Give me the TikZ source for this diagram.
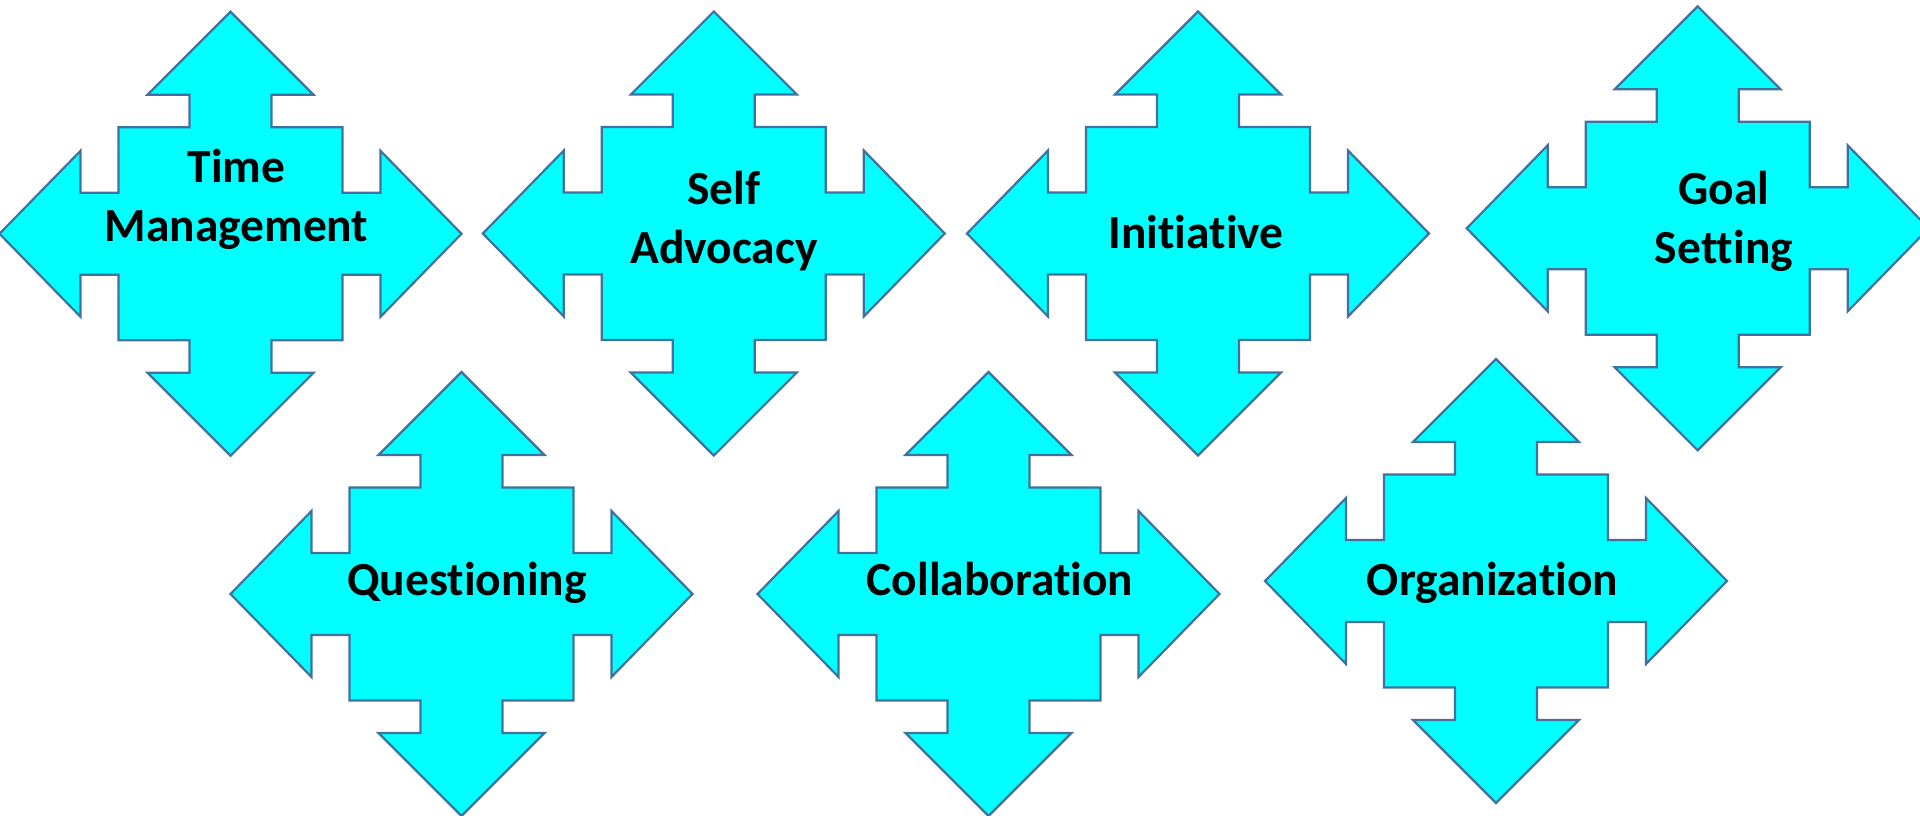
\documentclass[tikz,border=0pt]{standalone}
\usepackage{fontspec}
\setmainfont{Carlito}[Ligatures=NoCommon]
\usepackage{tikz}
\usetikzlibrary{positioning}

\definecolor{aqua}{HTML}{00FFFF}
\definecolor{edgeblue}{HTML}{41719C}

\tikzset{
  arrowshape/.style={fill=aqua, draw=edgeblue, line width=2.2pt, line join=miter},
  skill/.style={font=\fontsize{47.5}{59}\selectfont\bfseries, align=center, inner sep=0pt, anchor=base},
  quadarrow/.pic={
    \draw [arrowshape] (0,-222) -- (83,-139) -- (41,-139) -- (41,-106.5) -- (112,-106.5)
      -- (112,-41) -- (150,-41) -- (150,-83) -- (231,0) -- (150,83) -- (150,41)
      -- (112,41) -- (112,106.5) -- (41,106.5) -- (41,139) -- (83,139) -- (0,222)
      -- (-83,139) -- (-41,139) -- (-41,106.5) -- (-112,106.5) -- (-112,41)
      -- (-150,41) -- (-150,83) -- (-231,0) -- (-150,-83) -- (-150,-41)
      -- (-112,-41) -- (-112,-106.5) -- (-41,-106.5) -- (-41,-139) -- (-83,-139) -- cycle;
  }
}

\begin{document}
\begin{tikzpicture}[x=1pt, y=-1pt]
  \useasboundingbox (0,0) rectangle (1920,816);

  % top row
  \pic at (230.5,233.8) {quadarrow};
  \pic at (713.8,233.5) {quadarrow};
  \pic at (1198,233.5) {quadarrow};
  \pic at (1697.7,228.3) {quadarrow};
  % bottom row
  \pic at (461.5,594) {quadarrow};
  \pic at (988.5,594) {quadarrow};
  \pic at (1496,581) {quadarrow};

  % labels (base = last line)
  \node (time) at (236.5,241.7) [skill] {Time\\Management};
  \node (self) at (724,263.3) [skill] {Self\\Advocacy};
  \node (init) at (1196,248.3) [skill] {Initiative};
  \node (goal) at (1724,263.3) [skill] {Goal\\Setting};
  \node (quest) at (467,595) [skill] {Questioning};
  \node (collab) at (1000,595) [skill] {Collaboration};
  \node (organ) at (1492.5,595) [skill] {Organization};
\end{tikzpicture}
\end{document}
